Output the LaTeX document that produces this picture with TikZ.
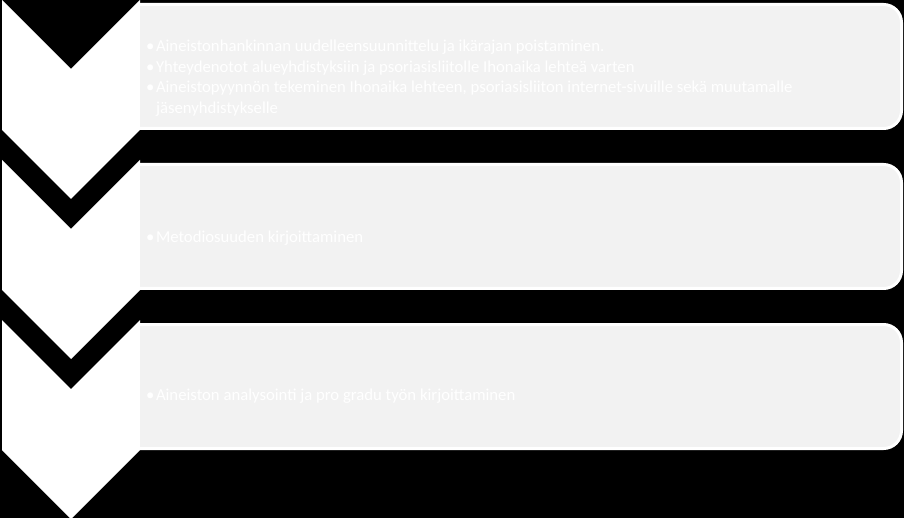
\documentclass[tikz,border=0pt]{standalone}
\usepackage{fontspec}
\setmainfont{Carlito}
\usetikzlibrary{positioning}

\tikzset{
  chevron/.style={fill=white},
  stepbox/.style={fill=gray!10,draw=white,line width=3pt},
  item/.style={text=white,anchor=west,align=left,inner sep=0pt,
    font=\fontsize{16.7}{20.5}\selectfont}
}
\newcommand{\bul}{•\kern1.5pt}

\begin{document}
\begin{tikzpicture}[x=1pt,y=-1pt]

\fill[black] (0,0) rectangle (904,518);
\useasboundingbox (0,0) rectangle (904,518);

\foreach \i/\ytop in {1/0,2/160,3/320} {
  \fill[chevron] (2,\ytop) -- (71,\ytop+69) -- (140,\ytop) -- (140,\ytop+130)
    -- (71,\ytop+199) -- (2,\ytop+130) -- cycle;
  \draw[stepbox] (140,\ytop+4.5) -- (883.5,\ytop+4.5)
    arc[start angle=-90,end angle=0,radius=18] -- (901.5,\ytop+110.5)
    arc[start angle=0,end angle=90,radius=18] -- (140,\ytop+128.5);
}

\node[item] (s1) at (146,78) {%
  \bul Aineistonhankinnan uudelleensuunnittelu ja ikärajan poistaminen.\\
  \bul Yhteydenotot alueyhdistyksiin ja psoriasisliitolle Ihonaika lehteä varten\\
  \bul Aineistopyynnön tekeminen Ihonaika lehteen, psoriasisliiton internet-sivuille sekä muutamalle\\
  \phantom{\bul}jäsenyhdistykselle};
\node[item] (s2) at (146,238) {\bul Metodiosuuden kirjoittaminen};
\node[item] (s3) at (146,396) {\bul Aineiston analysointi ja pro gradu työn kirjoittaminen};

\end{tikzpicture}
\end{document}
